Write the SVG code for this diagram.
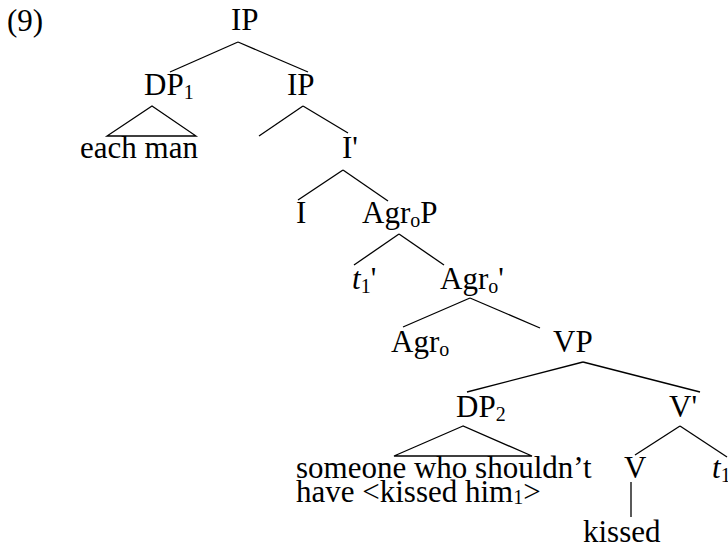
<svg xmlns="http://www.w3.org/2000/svg" width="728" height="546" viewBox="0 0 728 546">
<style>
text{font-family:"Liberation Serif","Times New Roman",serif;font-size:31px;fill:#000}
.s{font-size:20px}
line,polygon{stroke:#000;stroke-width:1.3;fill:none}
</style>
<rect width="728" height="546" fill="#fff"/>
<g id="connectors">
<line x1="238" y1="42" x2="170" y2="72"/>
<line x1="238" y1="42" x2="308" y2="72"/>
<polygon points="152,106 107,136 196,136"/>
<line x1="303" y1="106" x2="259" y2="136"/>
<line x1="303" y1="106" x2="348" y2="133"/>
<line x1="343" y1="170" x2="298" y2="200"/>
<line x1="343" y1="170" x2="388" y2="201"/>
<line x1="399" y1="234" x2="354" y2="265"/>
<line x1="399" y1="234" x2="444" y2="265"/>
<line x1="470" y1="298" x2="403" y2="327"/>
<line x1="470" y1="298" x2="540" y2="328"/>
<line x1="583" y1="362" x2="467" y2="392"/>
<line x1="583" y1="362" x2="700" y2="392"/>
<polygon points="463,426 394,456 532,456"/>
<line x1="680" y1="426" x2="635" y2="455"/>
<line x1="680" y1="426" x2="727" y2="457"/>
<line x1="631" y1="482" x2="631" y2="517"/>
</g>
<g id="label"><text x="7" y="31">(9)</text></g>
<g id="n-ip"><text x="231" y="30">IP</text></g>
<g id="n-dp1"><text x="144" y="95">DP<tspan class="s" dy="4">1</tspan></text></g>
<g id="n-ip2"><text x="287" y="95">IP</text></g>
<g id="n-eachman"><text x="80" y="158">each man</text></g>
<g id="n-ibar"><text x="342" y="158">I'</text></g>
<g id="n-i"><text x="296" y="223">I</text></g>
<g id="n-agrop"><text x="362" y="223">Agr<tspan class="s" dy="4">o</tspan><tspan dy="-4">P</tspan></text></g>
<g id="n-t1p"><text x="352" y="289"><tspan font-style="italic">t</tspan><tspan class="s" dy="4">1</tspan><tspan dy="-4">'</tspan></text></g>
<g id="n-agrobar"><text x="440" y="289">Agr<tspan class="s" dy="4">o</tspan><tspan dy="-4">'</tspan></text></g>
<g id="n-agro"><text x="391" y="352">Agr<tspan class="s" dy="4">o</tspan></text></g>
<g id="n-vp"><text x="553" y="352">VP</text></g>
<g id="n-dp2"><text x="456" y="417">DP<tspan class="s" dy="4">2</tspan></text></g>
<g id="n-vbar"><text x="669" y="417">V'</text></g>
<g id="n-someone"><text x="296" y="478">someone who shouldn’t</text><text x="296" y="502">have &lt;kissed him<tspan class="s" dy="2">1</tspan><tspan dy="-2">&gt;</tspan></text></g>
<g id="n-v"><text x="624" y="478">V</text></g>
<g id="n-t1"><text x="712" y="478"><tspan font-style="italic">t</tspan><tspan class="s" dy="4">1</tspan></text></g>
<g id="n-kissed"><text x="583" y="542">kissed</text></g>
</svg>
